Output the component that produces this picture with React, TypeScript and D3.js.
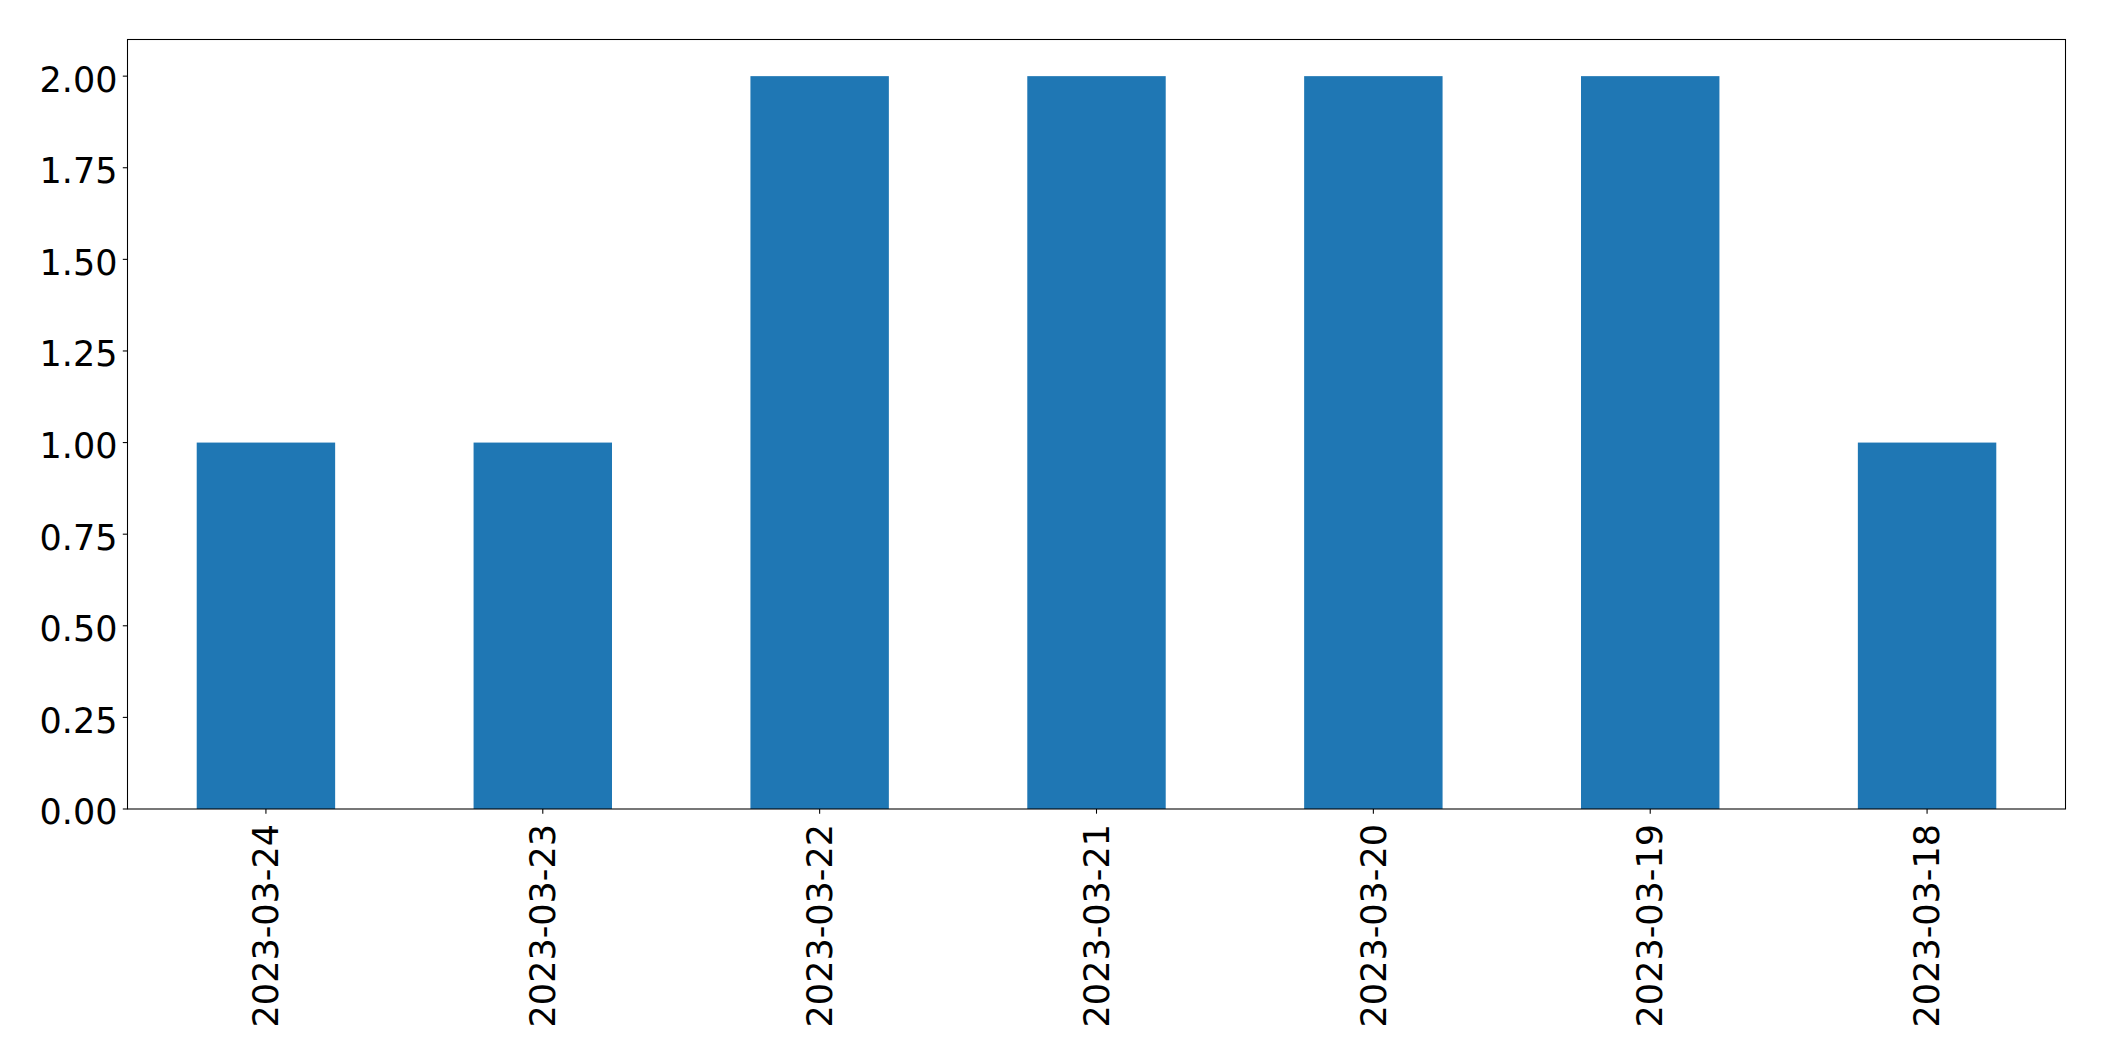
import React from 'react';
import * as d3 from 'd3';

const dates = ['2023-03-24', '2023-03-23', '2023-03-22', '2023-03-21', '2023-03-20', '2023-03-19', '2023-03-18'];
const counts = [1, 1, 2, 2, 2, 2, 1];
const yTicks = [0, 0.25, 0.5, 0.75, 1.0, 1.25, 1.5, 1.75, 2.0];

const W = 2104;
const H = 1061;
const left = 127.5;
const right = 2065.5;
const top = 39.5;
const bottom = 809;
const tickLen = 4.7;
const font = 'DejaVu Sans, sans-serif';
const fontSize = 35;

export default function App(): JSX.Element {
  const x = d3.scaleBand<string>().domain(dates).range([left, right]).paddingInner(0.5).paddingOuter(0.25);
  const y = d3.scaleLinear().domain([0, 2.1]).range([bottom, top]);

  return (
    <svg
      xmlns="http://www.w3.org/2000/svg"
      width={W}
      height={H}
      style={{ position: 'absolute', left: 0, top: 0, background: '#fff' }}
    >
      <rect x={0} y={0} width={W} height={H} fill="#fff" />
      {dates.map((d, i) => (
        <rect
          key={d}
          x={x(d)}
          y={y(counts[i])}
          width={x.bandwidth()}
          height={bottom - y(counts[i])}
          fill="#1f77b4"
        />
      ))}
      <rect x={left} y={top} width={right - left} height={bottom - top} fill="none" stroke="#000" strokeWidth={1.07} />
      {yTicks.map(t => (
        <g key={t} transform={`translate(0,${y(t)})`}>
          <line x1={left - tickLen} x2={left} stroke="#000" strokeWidth={1.07} />
          <text x={117.5} dy="0.44em" textAnchor="end" fontFamily={font} fontSize={fontSize} fill="#000">
            {t.toFixed(2)}
          </text>
        </g>
      ))}
      {dates.map(d => {
        const cx = (x(d) as number) + x.bandwidth() / 2;
        return (
          <g key={d} transform={`translate(${cx},${bottom})`}>
            <line y1={0} y2={tickLen} stroke="#000" strokeWidth={1.07} />
            <text
              transform="translate(0,15) rotate(-90)"
              dy="0.35em"
              textAnchor="end"
              fontFamily={font}
              fontSize={fontSize}
              fill="#000"
            >
              {d}
            </text>
          </g>
        );
      })}
    </svg>
  );
}
